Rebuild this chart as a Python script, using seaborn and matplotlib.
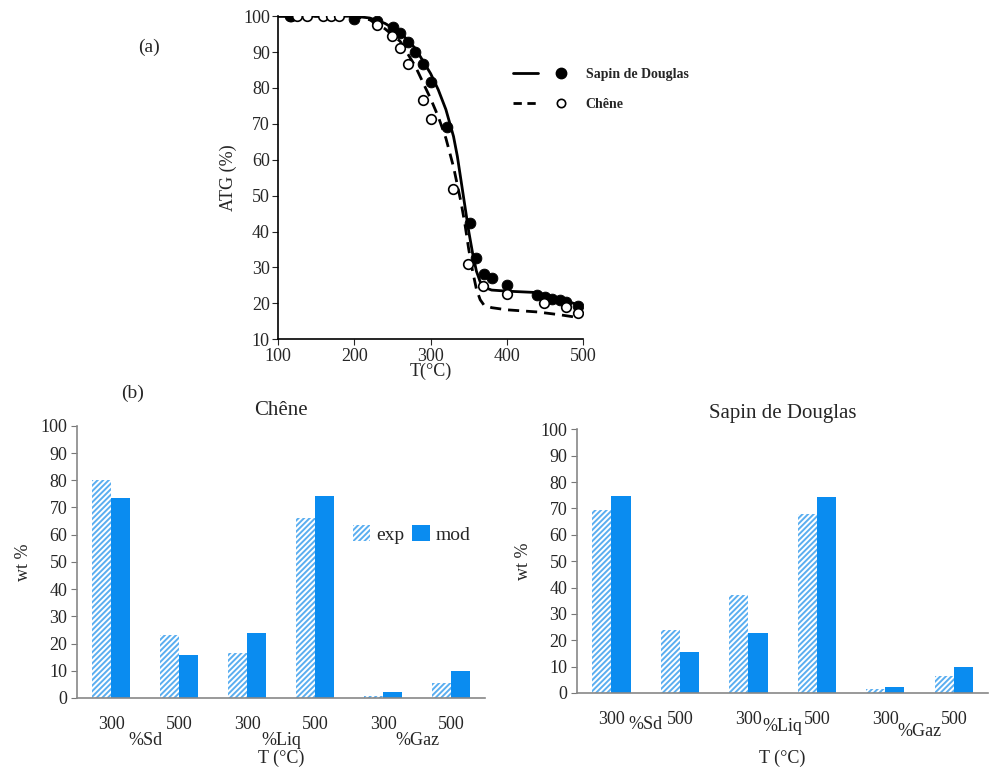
import numpy as np
import pandas as pd
import seaborn as sns
import matplotlib.pyplot as plt
from matplotlib.lines import Line2D
from matplotlib.patches import Patch
from matplotlib.legend_handler import HandlerTuple

# ---- (a) ATG curves ----
sapin_T_exp = [115, 117, 200, 230, 250, 260, 270, 280, 290, 300, 321, 351, 359, 370, 380, 400, 439, 450, 459, 470, 478, 493]
sapin_atg_exp = [100, 100, 99.3, 98.7, 97, 95.3, 92.8, 90, 86.6, 81.8, 69, 42.3, 32.7, 28.3, 27, 25.2, 22.3, 21.8, 21.3, 21, 20.4, 19.3]
chene_T_exp = [125, 138, 159, 169, 180, 230, 249, 260, 270, 290, 300, 329, 349, 369, 400, 449, 478, 493]
chene_atg_exp = [100, 100, 100, 100, 100, 97.5, 94.5, 91, 86.6, 76.7, 71.4, 51.9, 30.9, 24.9, 22.5, 20, 19, 17.4]

sapin_T_mod = [100, 200, 220, 240, 260, 280, 300, 310, 320, 330, 335, 340, 345, 350, 355, 360, 365, 370, 380, 400, 440, 460, 480, 495]
sapin_atg_mod = [100, 100, 99.5, 98, 95.5, 91, 84, 79.5, 74, 66.5, 61, 54, 47, 40, 34, 29, 26, 24.5, 23.7, 23.4, 23, 21.8, 20.5, 19.5]
chene_T_mod = [100, 200, 220, 240, 260, 280, 300, 310, 320, 330, 340, 345, 350, 355, 360, 365, 370, 380, 400, 440, 470, 495]
chene_atg_mod = [100, 100, 99, 96.5, 93, 86, 77, 72, 66, 58, 48, 42, 35, 29, 24, 21, 19.5, 18.8, 18.2, 17.6, 16.8, 16]

# ---- (b) yields ----
temps = ["300", "500"]
phases = ["%Sd", "%Liq", "%Gaz"]
chene_exp = [80, 23, 16.5, 66, 0.7, 5.6]
chene_mod = [73.5, 15.7, 24, 74.3, 2.3, 9.8]
sapin_exp = [69.5, 24, 37.2, 67.8, 1.4, 6.3]
sapin_mod = [74.8, 15.6, 22.8, 74.3, 2.1, 9.8]

sns.set_style("white")
plt.rcParams['font.family'] = ['Liberation Serif', 'DejaVu Serif']
plt.rcParams['hatch.linewidth'] = 1.4

fig = plt.figure(figsize=(9.9, 7.71), dpi=100)

# ---------- top chart ----------
ax = fig.add_axes([0.281, 0.560, 0.308, 0.419])
sns.lineplot(x=sapin_T_mod, y=sapin_atg_mod, ax=ax, color="black", lw=2, sort=False)
sns.lineplot(x=chene_T_mod, y=chene_atg_mod, ax=ax, color="black", lw=2, sort=False, linestyle=(0, (4, 2.5)))
sns.scatterplot(x=sapin_T_exp, y=sapin_atg_exp, ax=ax, color="black", s=60, edgecolor="black", zorder=3)
sns.scatterplot(x=chene_T_exp, y=chene_atg_exp, ax=ax, facecolor="white", edgecolor="black", linewidth=1.2, s=48, zorder=4)
ax.set_xlim(100, 500)
ax.set_ylim(10, 100)
ax.set_xticks(range(100, 501, 100))
ax.set_yticks(range(10, 101, 10))
ax.tick_params(labelsize=13, length=4, direction="out", bottom=True, left=True, pad=2)
for s in ["top", "right"]:
    ax.spines[s].set_visible(False)
for s in ["left", "bottom"]:
    ax.spines[s].set_color("black")
    ax.spines[s].set_linewidth(1.2)
ax.set_xlabel("T(°C)", fontsize=13)
ax.xaxis.set_label_coords(0.5, -0.072)
ax.set_ylabel("ATG (%)", fontsize=13, labelpad=4)

h_sapin = (Line2D([], [], color="black", lw=2), Line2D([], [], color="black", marker="o", ls="", ms=7.5))
h_chene = (Line2D([], [], color="black", lw=2, ls=(0, (3, 2))),
           Line2D([], [], color="black", marker="o", ls="", ms=6, mfc="white", mew=1.2))
fig.legend([h_sapin, h_chene], ["Sapin de Douglas", "Chêne"],
           handler_map={tuple: HandlerTuple(ndivide=None, pad=0.8)},
           loc="center left", bbox_to_anchor=(0.506, 0.884), frameon=False,
           handlelength=4.3, labelspacing=1.2, handletextpad=0.9,
           prop={"family": "Liberation Serif", "weight": "bold", "size": 10})
fig.text(0.140, 0.938, "(a)", fontsize=14, ha="left", va="center")
fig.text(0.122, 0.490, "(b)", fontsize=14, ha="left", va="center")


# ---------- bottom charts ----------
def bar_panel(rect, exp, mod, title, legend, lab_dy, xlab_y):
    bx = fig.add_axes(rect)
    groups = [f"{p}-{t}" for p in phases for t in temps]
    df = pd.DataFrame({
        "grp": groups * 2,
        "val": exp + mod,
        "serie": ["exp"] * 6 + ["mod"] * 6,
    })
    sns.barplot(data=df, x="grp", y="val", hue="serie", ax=bx, order=groups,
                palette={"exp": "white", "mod": "#0a8cf0"}, width=0.56,
                saturation=1, legend=False, linewidth=0, edgecolor="none")
    for p in bx.containers[0]:
        p.set_hatch("//////")
        p.set_edgecolor("#5aaef0")
        p.set_linewidth(0)
    bx.set_xlim(-0.5, 5.5)
    bx.set_ylim(0, 100)
    bx.set_yticks(range(0, 101, 10))
    bx.set_xticks(range(6))
    bx.set_xticklabels(temps * 3)
    bx.set_xticks(np.arange(-0.5, 6, 1), minor=True)
    bx.tick_params(axis="x", which="major", length=0, labelsize=13, pad=13)
    bx.tick_params(axis="x", which="minor", length=5, direction="out", color="#777777", width=1.2)
    bx.tick_params(axis="y", labelsize=13, length=4, direction="out", left=True, color="#777777", pad=3)
    for s in ["top", "right"]:
        bx.spines[s].set_visible(False)
    for s in ["left", "bottom"]:
        bx.spines[s].set_color("#888888")
        bx.spines[s].set_linewidth(1.2)
    for i, (ph, dy) in enumerate(zip(phases, lab_dy)):
        bx.text(2 * i + 0.5, dy, ph, transform=bx.get_xaxis_transform(),
                ha="center", va="center", fontsize=13)
    bx.set_xlabel("T (°C)", fontsize=13)
    bx.xaxis.set_label_coords(0.5, xlab_y)
    bx.set_ylabel("wt %", fontsize=13, labelpad=6)
    bx.set_title(title, fontsize=15, pad=8)
    if legend:
        hs = [Patch(facecolor="white", edgecolor="#5aaef0", hatch="//////", linewidth=0),
              Patch(facecolor="#0a8cf0", linewidth=0)]
        bx.legend(hs, ["exp", "mod"], loc="center", bbox_to_anchor=(0.82, 0.6),
                  ncol=2, frameon=False, fontsize=14, handlelength=0.9,
                  handleheight=0.9, handletextpad=0.3, columnspacing=0.4)
    return bx


bar_panel([0.078, 0.0947, 0.412, 0.353], chene_exp, chene_mod, "Chêne", True,
          [-0.157, -0.157, -0.157], -0.19)
bar_panel([0.583, 0.1012, 0.415, 0.342], sapin_exp, sapin_mod, "Sapin de Douglas", False,
          [-0.12, -0.128, -0.148], -0.215)

fig.savefig("out.png", dpi=100, facecolor="white")
